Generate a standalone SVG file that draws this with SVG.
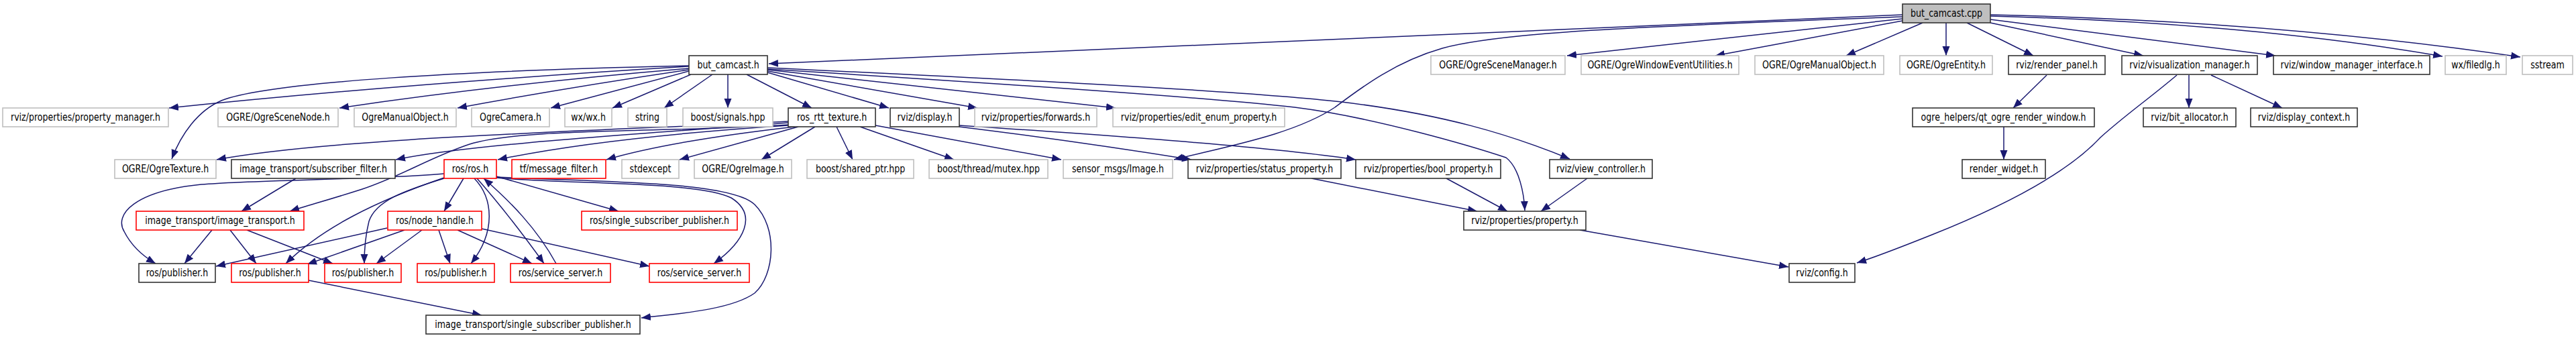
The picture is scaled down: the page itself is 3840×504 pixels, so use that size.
<svg xmlns="http://www.w3.org/2000/svg" width="3840" height="504" viewBox="0 0 3840 504">
<defs>
<style>
.n{fill:#fff;stroke-width:1.6}
.k{stroke:#333}
.g{stroke:#bfbfbf}
.r{stroke:#ff0000}
.root{fill:#bfbfbf;stroke:#333;stroke-width:1.6}
.t{font-family:"DejaVu Sans","Liberation Sans",sans-serif;font-size:12.6px;text-anchor:middle;fill:#000}
.e path{fill:none;stroke:#191970;stroke-width:1.5;marker-end:url(#ah)}
</style>
<marker id="ah" markerUnits="userSpaceOnUse" markerWidth="15" markerHeight="12" refX="14" refY="6" orient="auto"><path d="M0,0.5 L14,6 L0,11.5 z" fill="#191970"/></marker>
</defs>
<rect width="3840" height="504" fill="#fff"/>
<g id="edges" class="e">
<path d="M2836,22 L1146,95"/>
<path d="M2836,28 L2336,83"/>
<path d="M2836,31 L2557,83"/>
<path d="M2866,34 L2752,83"/>
<path d="M2901,34 L2901,83"/>
<path d="M2932,34 L3031,83"/>
<path d="M2967,34 L3195,83"/>
<path d="M2967,29 L3392,83"/>
<path d="M2967,24 Q3350,34 3641,84"/>
<path d="M2967,22 Q3400,32 3757,85"/>
<path d="M2836,25 C2500,38 2250,45 2150,72 C2080,92 2030,130 1990,160 C1930,200 1830,218 1750,238"/>
<path d="M1027,99 Q600,125 252,161"/>
<path d="M1027,98 C700,105 400,122 330,150 C295,165 270,200 256,237"/>
<path d="M1027,102 Q750,125 506,161"/>
<path d="M1027,104 Q850,130 682,161"/>
<path d="M1027,106 Q920,135 821,161"/>
<path d="M1030,111 L913,161"/>
<path d="M1062,111 L990,161"/>
<path d="M1085,111 L1085,161"/>
<path d="M1113,111 L1210,161"/>
<path d="M1144,108 L1325,161"/>
<path d="M1144,106 L1457,161"/>
<path d="M1144,104 L1663,161"/>
<path d="M1144,101 C1500,118 1850,135 2000,152 C2150,170 2250,200 2340,237"/>
<path d="M1144,103 C1500,125 1800,145 1930,160 C2050,175 2200,220 2245,235 C2265,250 2272,290 2273,314"/>
<path d="M1175,187 Q900,205 742,238"/>
<path d="M1185,189 Q1000,210 904,238"/>
<path d="M1190,189 L1013,238"/>
<path d="M1215,189 L1135,238"/>
<path d="M1247,189 L1271,238"/>
<path d="M1282,189 L1422,238"/>
<path d="M1305,187 L1582,238"/>
<path d="M1175,181 C900,195 500,205 323,238"/>
<path d="M1175,183 C950,200 700,215 590,238"/>
<path d="M1175,186 C1000,198 780,190 700,215 C640,235 600,262 540,282 C490,298 460,306 432,315"/>
<path d="M662,259 C560,268 380,268 300,275 C200,285 170,320 185,345 C195,365 210,380 232,393"/>
<path d="M662,265 C560,300 480,340 426,393"/>
<path d="M662,266 C600,285 560,300 550,330 C545,350 543,370 543,393"/>
<path d="M691,266 L662,315"/>
<path d="M707,266 C735,295 740,345 702,393"/>
<path d="M711,266 C750,310 780,350 811,393"/>
<path d="M829,393 C800,340 760,300 721,266"/>
<path d="M740,263 L922,315"/>
<path d="M740,265 C850,275 1040,270 1090,295 C1130,320 1110,360 1064,393"/>
<path d="M740,264 C900,272 1090,270 1125,305 C1160,340 1155,410 1125,437 C1090,462 1010,468 956,474"/>
<path d="M577,340 L322,397"/>
<path d="M603,343 L458,394"/>
<path d="M629,343 L561,393"/>
<path d="M654,343 L671,393"/>
<path d="M682,343 L793,393"/>
<path d="M718,341 L968,397"/>
<path d="M316,343 L275,393"/>
<path d="M343,343 L382,393"/>
<path d="M368,343 L496,393"/>
<path d="M441,266 L360,315"/>
<path d="M460,418 L718,470"/>
<path d="M1955,266 L2202,315"/>
<path d="M2156,266 L2247,315"/>
<path d="M2366,266 L2297,315"/>
<path d="M2355,343 L2666,398"/>
<path d="M3245,112 C3200,150 3170,170 3131,205 C3080,260 2980,310 2880,350 C2830,370 2790,385 2768,392"/>
<path d="M3263,112 L3263,161"/>
<path d="M3296,112 L3402,161"/>
<path d="M3051,112 L3001,161"/>
<path d="M2987,189 L2987,238"/>
<path d="M1430,189 Q1600,210 1776,238"/>
<path d="M1430,187 C1700,205 1900,220 2021,238"/>
</g>
<g id="n_cpp"><rect class="root" x="2836" y="6" width="131" height="28"/><text class="t" transform="translate(2901.5,24.5) scale(1,1.27)">but_camcast.cpp</text></g>
<g id="n_h"><rect class="n k" x="1027" y="83" width="117" height="28"/><text class="t" transform="translate(1085.5,101.5) scale(1,1.27)">but_camcast.h</text></g>
<g id="n_sm"><rect class="n g" x="2133" y="83" width="200" height="28"/><text class="t" transform="translate(2233,101.5) scale(1,1.27)">OGRE/OgreSceneManager.h</text></g>
<g id="n_weu"><rect class="n g" x="2357" y="83" width="235" height="28"/><text class="t" transform="translate(2474.5,101.5) scale(1,1.27)">OGRE/OgreWindowEventUtilities.h</text></g>
<g id="n_omo1"><rect class="n g" x="2616" y="83" width="192" height="28"/><text class="t" transform="translate(2712,101.5) scale(1,1.27)">OGRE/OgreManualObject.h</text></g>
<g id="n_ent"><rect class="n g" x="2832" y="83" width="138" height="28"/><text class="t" transform="translate(2901,101.5) scale(1,1.27)">OGRE/OgreEntity.h</text></g>
<g id="n_rp"><rect class="n k" x="2994" y="83" width="144" height="28"/><text class="t" transform="translate(3066,101.5) scale(1,1.27)">rviz/render_panel.h</text></g>
<g id="n_vm"><rect class="n k" x="3163" y="83" width="202" height="28"/><text class="t" transform="translate(3264,101.5) scale(1,1.27)">rviz/visualization_manager.h</text></g>
<g id="n_wmi"><rect class="n k" x="3389" y="83" width="233" height="28"/><text class="t" transform="translate(3505.5,101.5) scale(1,1.27)">rviz/window_manager_interface.h</text></g>
<g id="n_fd"><rect class="n g" x="3645" y="83" width="91" height="28"/><text class="t" transform="translate(3690.5,101.5) scale(1,1.27)">wx/filedlg.h</text></g>
<g id="n_ss"><rect class="n g" x="3760" y="83" width="75" height="28"/><text class="t" transform="translate(3797.5,101.5) scale(1,1.27)">sstream</text></g>
<g id="n_pm"><rect class="n g" x="4" y="161" width="247" height="28"/><text class="t" transform="translate(127.5,179.5) scale(1,1.27)">rviz/properties/property_manager.h</text></g>
<g id="n_sn"><rect class="n g" x="325" y="161" width="179" height="28"/><text class="t" transform="translate(414.5,179.5) scale(1,1.27)">OGRE/OgreSceneNode.h</text></g>
<g id="n_omo2"><rect class="n g" x="528" y="161" width="152" height="28"/><text class="t" transform="translate(604,179.5) scale(1,1.27)">OgreManualObject.h</text></g>
<g id="n_cam"><rect class="n g" x="703" y="161" width="116" height="28"/><text class="t" transform="translate(761,179.5) scale(1,1.27)">OgreCamera.h</text></g>
<g id="n_wx"><rect class="n g" x="842" y="161" width="70" height="28"/><text class="t" transform="translate(877,179.5) scale(1,1.27)">wx/wx.h</text></g>
<g id="n_str"><rect class="n g" x="936" y="161" width="58" height="28"/><text class="t" transform="translate(965,179.5) scale(1,1.27)">string</text></g>
<g id="n_sig"><rect class="n g" x="1018" y="161" width="134" height="28"/><text class="t" transform="translate(1085,179.5) scale(1,1.27)">boost/signals.hpp</text></g>
<g id="n_rtt"><rect class="n k" x="1175" y="161" width="130" height="28"/><text class="t" transform="translate(1240,179.5) scale(1,1.27)">ros_rtt_texture.h</text></g>
<g id="n_disp"><rect class="n k" x="1327" y="161" width="103" height="28"/><text class="t" transform="translate(1378.5,179.5) scale(1,1.27)">rviz/display.h</text></g>
<g id="n_fwd"><rect class="n g" x="1453" y="161" width="182" height="28"/><text class="t" transform="translate(1544,179.5) scale(1,1.27)">rviz/properties/forwards.h</text></g>
<g id="n_eep"><rect class="n g" x="1659" y="161" width="256" height="28"/><text class="t" transform="translate(1787,179.5) scale(1,1.27)">rviz/properties/edit_enum_property.h</text></g>
<g id="n_qow"><rect class="n k" x="2851" y="161" width="271" height="28"/><text class="t" transform="translate(2986.5,179.5) scale(1,1.27)">ogre_helpers/qt_ogre_render_window.h</text></g>
<g id="n_ba"><rect class="n k" x="3195" y="161" width="138" height="28"/><text class="t" transform="translate(3264,179.5) scale(1,1.27)">rviz/bit_allocator.h</text></g>
<g id="n_dc"><rect class="n k" x="3355" y="161" width="159" height="28"/><text class="t" transform="translate(3434.5,179.5) scale(1,1.27)">rviz/display_context.h</text></g>
<g id="n_tex"><rect class="n g" x="171" y="238" width="151" height="28"/><text class="t" transform="translate(246.5,256.5) scale(1,1.27)">OGRE/OgreTexture.h</text></g>
<g id="n_sf"><rect class="n k" x="345" y="238" width="244" height="28"/><text class="t" transform="translate(467,256.5) scale(1,1.27)">image_transport/subscriber_filter.h</text></g>
<g id="n_ros"><rect class="n r" x="662" y="238" width="78" height="28"/><text class="t" transform="translate(701,256.5) scale(1,1.27)">ros/ros.h</text></g>
<g id="n_tfm"><rect class="n r" x="763" y="238" width="140" height="28"/><text class="t" transform="translate(833,256.5) scale(1,1.27)">tf/message_filter.h</text></g>
<g id="n_stdx"><rect class="n g" x="927" y="238" width="85" height="28"/><text class="t" transform="translate(969.5,256.5) scale(1,1.27)">stdexcept</text></g>
<g id="n_img"><rect class="n g" x="1035" y="238" width="145" height="28"/><text class="t" transform="translate(1107.5,256.5) scale(1,1.27)">OGRE/OgreImage.h</text></g>
<g id="n_sp"><rect class="n g" x="1203" y="238" width="159" height="28"/><text class="t" transform="translate(1282.5,256.5) scale(1,1.27)">boost/shared_ptr.hpp</text></g>
<g id="n_mtx"><rect class="n g" x="1385" y="238" width="177" height="28"/><text class="t" transform="translate(1473.5,256.5) scale(1,1.27)">boost/thread/mutex.hpp</text></g>
<g id="n_smi"><rect class="n g" x="1585" y="238" width="163" height="28"/><text class="t" transform="translate(1666.5,256.5) scale(1,1.27)">sensor_msgs/Image.h</text></g>
<g id="n_stp"><rect class="n k" x="1771" y="238" width="228" height="28"/><text class="t" transform="translate(1885,256.5) scale(1,1.27)">rviz/properties/status_property.h</text></g>
<g id="n_bp"><rect class="n k" x="2021" y="238" width="216" height="28"/><text class="t" transform="translate(2129,256.5) scale(1,1.27)">rviz/properties/bool_property.h</text></g>
<g id="n_vc"><rect class="n k" x="2310" y="238" width="153" height="28"/><text class="t" transform="translate(2386.5,256.5) scale(1,1.27)">rviz/view_controller.h</text></g>
<g id="n_rw"><rect class="n k" x="2925" y="238" width="124" height="28"/><text class="t" transform="translate(2987,256.5) scale(1,1.27)">render_widget.h</text></g>
<g id="n_it"><rect class="n r" x="203" y="315" width="250" height="28"/><text class="t" transform="translate(328,333.5) scale(1,1.27)">image_transport/image_transport.h</text></g>
<g id="n_nh"><rect class="n r" x="578" y="315" width="140" height="28"/><text class="t" transform="translate(648,333.5) scale(1,1.27)">ros/node_handle.h</text></g>
<g id="n_rssp"><rect class="n r" x="867" y="315" width="232" height="28"/><text class="t" transform="translate(983,333.5) scale(1,1.27)">ros/single_subscriber_publisher.h</text></g>
<g id="n_prop"><rect class="n k" x="2182" y="315" width="182" height="28"/><text class="t" transform="translate(2273,333.5) scale(1,1.27)">rviz/properties/property.h</text></g>
<g id="n_pub1"><rect class="n k" x="207" y="393" width="114" height="28"/><text class="t" transform="translate(264,411.5) scale(1,1.27)">ros/publisher.h</text></g>
<g id="n_pub2"><rect class="n r" x="345" y="393" width="115" height="28"/><text class="t" transform="translate(402.5,411.5) scale(1,1.27)">ros/publisher.h</text></g>
<g id="n_pub3"><rect class="n r" x="484" y="393" width="114" height="28"/><text class="t" transform="translate(541,411.5) scale(1,1.27)">ros/publisher.h</text></g>
<g id="n_pub4"><rect class="n r" x="622" y="393" width="115" height="28"/><text class="t" transform="translate(679.5,411.5) scale(1,1.27)">ros/publisher.h</text></g>
<g id="n_ss1"><rect class="n r" x="761" y="393" width="149" height="28"/><text class="t" transform="translate(835.5,411.5) scale(1,1.27)">ros/service_server.h</text></g>
<g id="n_ss2"><rect class="n r" x="968" y="393" width="149" height="28"/><text class="t" transform="translate(1042.5,411.5) scale(1,1.27)">ros/service_server.h</text></g>
<g id="n_cfg"><rect class="n k" x="2667" y="393" width="98" height="28"/><text class="t" transform="translate(2716,411.5) scale(1,1.27)">rviz/config.h</text></g>
<g id="n_itssp"><rect class="n k" x="635" y="470" width="319" height="28"/><text class="t" transform="translate(794.5,488.5) scale(1,1.27)">image_transport/single_subscriber_publisher.h</text></g>
</svg>
